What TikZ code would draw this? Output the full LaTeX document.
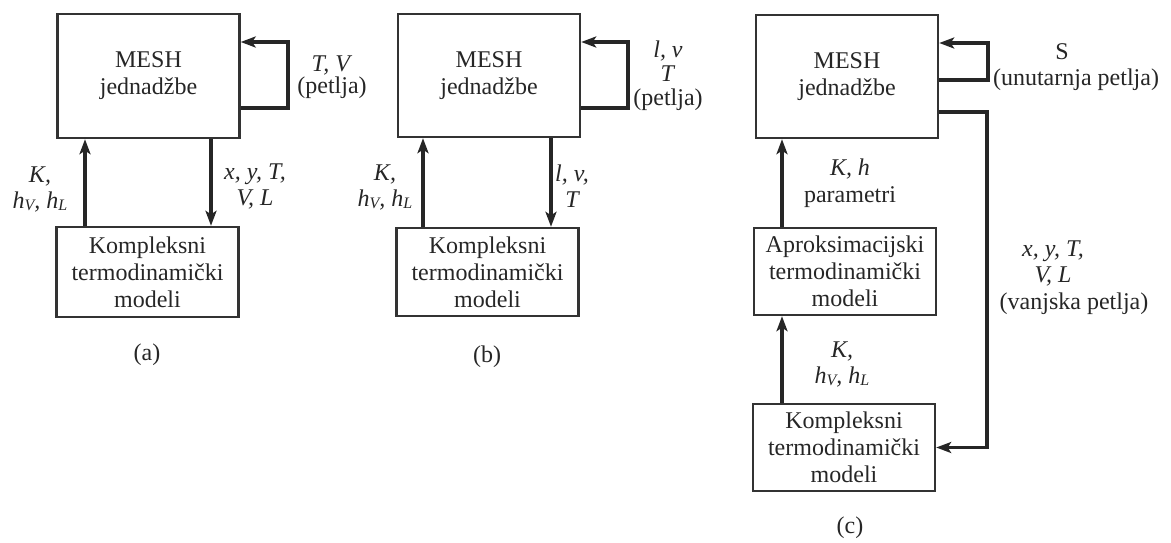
\documentclass[tikz,border=0pt]{standalone}
\usepackage{fontspec}
\setmainfont{Liberation Serif}
\usetikzlibrary{arrows.meta}
\newcommand{\lsub}[1]{\raisebox{-0.2ex}{\fontsize{16}{16}\selectfont #1}}
\begin{document}
\begin{tikzpicture}[x=1pt,y=-1pt,
  every node/.style={font=\fontsize{24}{27}\selectfont, text=black!85, inner sep=0pt, align=center},
  blk/.style={draw=black!80, line width=2.4pt, minimum width=182pt},
  arr/.style={draw=black!85, line width=3.2pt, -{Stealth[length=15pt,width=11pt,inset=3.5pt]}},
  lab/.style={font=\fontsize{24}{26}\selectfont\itshape}
]
\useasboundingbox (0,0) rectangle (1171,542);
% ---------- (a)
\node[blk, minimum height=124pt] (meshA) at (148.5,76) {MESH\\jednadžbe};
\node[blk, minimum height=90pt] (kompA) at (147.5,272) {Kompleksni\\termodinamički\\modeli};
\coordinate (loopA) at (288,42);
\draw[arr] (meshA.east |- 0,108) -| (loopA) -- (meshA.east |- loopA);
\draw[arr] (kompA.north -| 85,0) -- (meshA.south -| 85,0);
\draw[arr] (meshA.south -| 211,0) -- (kompA.north -| 211,0);
\node[lab] (kA) at (40,189) {K,\\h\lsub{V}, h\lsub{L}};
\node[lab] (xA) at (255,186) {x, y, T,\\V, L};
\node[font=\fontsize{24}{22}\selectfont] (pA) at (332,77) {\textit{T, V}\\(petlja)};
\node (capA) at (147,355) {(a)};
% ---------- (b)
\node[blk, minimum height=123pt] (meshB) at (489,75.5) {MESH\\jednadžbe};
\node[blk, minimum height=88pt] (kompB) at (487.5,272) {Kompleksni\\termodinamički\\modeli};
\coordinate (loopB) at (628,42);
\draw[arr] (meshB.east |- 0,108) -| (loopB) -- (meshB.east |- loopB);
\draw[arr] (kompB.north -| 423,0) -- (meshB.south -| 423,0);
\draw[arr] (meshB.south -| 551,0) -- (kompB.north -| 551,0);
\node[lab] (kB) at (385,187) {K,\\h\lsub{V}, h\lsub{L}};
\node[lab] (lvB) at (572,186) {l, v,\\T};
\node[font=\fontsize{24}{24}\selectfont] (pB) at (668,76) {\textit{l, v}\\\textit{T}\\(petlja)};
\node (capB) at (487,357) {(b)};
% ---------- (c)
\node[blk, minimum height=123pt] (meshC) at (847,76.5) {MESH\\jednadžbe};
\node[blk, minimum height=87pt] (aprC) at (845,271.5) {Aproksimacijski\\termodinamički\\modeli};
\node[blk, minimum height=87pt] (kompC) at (844,447.5) {Kompleksni\\termodinamički\\modeli};
\coordinate (loopC) at (988,43);
\coordinate (outC) at (987,112);
\draw[arr] (meshC.east |- 0,80) -| (loopC) -- (meshC.east |- loopC);
\draw[arr] (meshC.east |- outC) -- (outC) |- (kompC.east);
\draw[arr] (aprC.north -| 782,0) -- (meshC.south -| 782,0);
\draw[arr] (kompC.north -| 782,0) -- (aprC.south -| 782,0);
\node (sC) at (1062,52) {S};
\node (uC) at (1076,80) {(unutarnja petlja)};
\node (khC) at (850,183) {\textit{K, h}\\parametri};
\node[lab] (xC) at (1053,263) {x, y, T,\\V, L};
\node (vC) at (1074,304) {(vanjska petlja)};
\node[lab] (kC) at (842,364) {K,\\h\lsub{V}, h\lsub{L}};
\node (capC) at (850,528) {(c)};
\end{tikzpicture}
\end{document}
